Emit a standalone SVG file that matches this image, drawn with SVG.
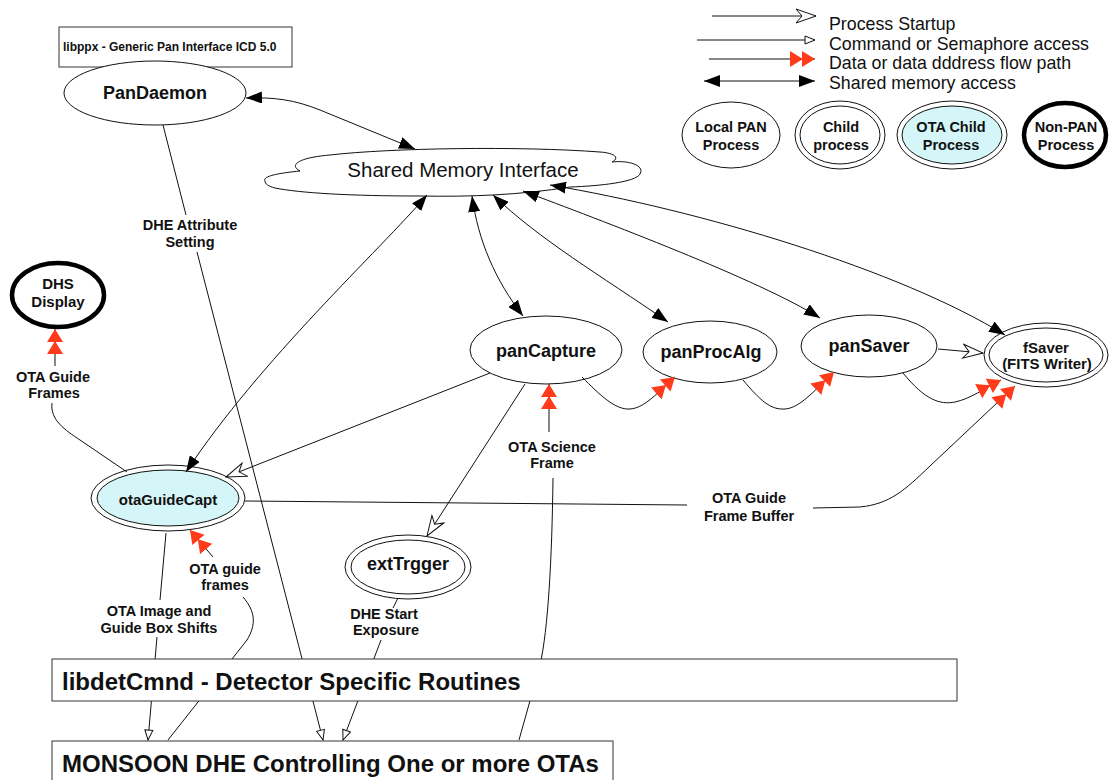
<svg xmlns="http://www.w3.org/2000/svg" width="1109" height="780" viewBox="0 0 1109 780">
<style>
text{font-family:"Liberation Sans",Arial,sans-serif;fill:#111}
.lbl{font-weight:bold;font-size:14.5px;text-anchor:middle}
.nd{font-weight:bold;font-size:18px;text-anchor:middle}
.lgn{font-weight:bold;font-size:14.5px;text-anchor:middle}
.lg{font-size:17.8px}
.e{fill:#fff;stroke:#111;stroke-width:1}
.cy{fill:#d5f6f8;stroke:#111;stroke-width:1}
.thick{fill:#fff;stroke:#000;stroke-width:4.5}
.c{fill:none;stroke:#111;stroke-width:1}
.box{fill:#fff;stroke:#333;stroke-width:1}
</style>
<defs>
<marker id="sm" viewBox="0 0 16 12" refX="16" refY="6" markerWidth="16" markerHeight="12" markerUnits="userSpaceOnUse" orient="auto-start-reverse"><path d="M0,0 L16,6 L0,12 Z" fill="#000"/></marker>
<marker id="dt" viewBox="0 0 26 18" refX="25" refY="9" markerWidth="26" markerHeight="18" markerUnits="userSpaceOnUse" orient="auto"><path d="M0,1 L13,9 L0,17 Z M12,1 L25,9 L12,17 Z" fill="#ff3b1c"/></marker>
<marker id="cmd" viewBox="0 0 12 10" refX="11" refY="5" markerWidth="12" markerHeight="10" markerUnits="userSpaceOnUse" orient="auto"><path d="M1,1 L11,5 L1,9 Z" fill="#fff" stroke="#111" stroke-width="1"/></marker>
<marker id="st" viewBox="0 0 22 16" refX="21" refY="8" markerWidth="22" markerHeight="16" markerUnits="userSpaceOnUse" orient="auto"><path d="M1,1 L21,8 L1,15 L7,8 Z" fill="#fff" stroke="#111" stroke-width="1"/></marker>
</defs>
<rect width="1109" height="780" fill="#fff"/>

<!-- Legend -->
<g id="legend">
<path class="c" d="M712,16 L816,16" marker-end="url(#st)"/>
<path class="c" d="M697,40 L815,40" marker-end="url(#cmd)"/>
<path class="c" d="M709,59 L815,59" marker-end="url(#dt)"/>
<path class="c" d="M704,81 L815,81" marker-start="url(#sm)" marker-end="url(#sm)"/>
<text class="lg" x="829" y="30">Process Startup</text>
<text class="lg" x="829" y="50">Command or Semaphore access</text>
<text class="lg" x="829" y="69">Data or data dddress flow path</text>
<text class="lg" x="829" y="89">Shared memory access</text>
</g>
<g id="legend-local">
<ellipse class="e" cx="731" cy="135" rx="49" ry="33"/>
<text class="lgn" x="731" y="132">Local PAN</text><text class="lgn" x="731" y="150">Process</text>
</g>
<g id="legend-child">
<ellipse class="e" cx="840" cy="135" rx="45" ry="34"/>
<ellipse class="e" cx="840" cy="135" rx="40" ry="29"/>
<text class="lgn" x="841" y="132">Child</text><text class="lgn" x="841" y="150">process</text>
</g>
<g id="legend-ota">
<ellipse class="e" cx="952" cy="135" rx="55" ry="34"/>
<ellipse class="cy" cx="952" cy="135" rx="50" ry="29"/>
<text class="lgn" x="951" y="132">OTA Child</text><text class="lgn" x="951" y="150">Process</text>
</g>
<g id="legend-nonpan">
<ellipse class="thick" cx="1065" cy="135" rx="41" ry="32"/>
<text class="lgn" x="1066" y="132">Non-PAN</text><text class="lgn" x="1066" y="150">Process</text>
</g>

<!-- Nodes -->
<g id="libppx">
<rect class="box" x="59" y="27" width="233" height="40"/>
<text x="63" y="51" style="font-weight:bold;font-size:12px">libppx - Generic Pan Interface ICD 5.0</text>
</g>
<g id="PanDaemon">
<ellipse class="e" cx="155" cy="93" rx="91" ry="32"/>
<text class="nd" x="155" y="99">PanDaemon</text>
</g>
<g id="SharedMemory">
<path class="e" d="M265,181 C262,176 280,173 300,171 C290,166 295,158 330,155 C390,148 520,146 600,152 C615,153 620,158 612,162 C630,160 645,166 640,174 C636,182 600,186 570,187 C520,195 470,197 420,196 C350,196 300,193 275,188 C268,186 265,184 265,181 Z"/>
<text x="463" y="177" style="font-size:20.5px;text-anchor:middle">Shared Memory Interface</text>
</g>
<g id="DHSDisplay">
<ellipse class="thick" cx="58" cy="295" rx="46" ry="32"/>
<text class="lbl" x="58" y="289" style="font-size:15px">DHS</text>
<text class="lbl" x="58" y="307" style="font-size:15px">Display</text>
</g>
<g id="panCapture">
<ellipse class="e" cx="546" cy="350" rx="76" ry="34"/>
<text class="nd" x="546" y="357">panCapture</text>
</g>
<g id="panProcAlg">
<ellipse class="e" cx="710" cy="352" rx="67" ry="31"/>
<text class="nd" x="711" y="358">panProcAlg</text>
</g>
<g id="panSaver">
<ellipse class="e" cx="869" cy="346" rx="68" ry="31"/>
<text class="nd" x="869" y="352">panSaver</text>
</g>
<g id="fSaver">
<ellipse class="e" cx="1046" cy="355" rx="62" ry="32"/>
<ellipse class="e" cx="1046" cy="355" rx="57" ry="27"/>
<text class="lbl" x="1046" y="353" style="font-size:15px">fSaver</text>
<text class="lbl" x="1047" y="369" style="font-size:15px">(FITS Writer)</text>
</g>
<g id="otaGuideCapt">
<ellipse class="e" cx="168" cy="498" rx="77" ry="33"/>
<ellipse class="cy" cx="168" cy="498" rx="71" ry="28"/>
<text class="lbl" x="168" y="505" style="font-size:15px">otaGuideCapt</text>
</g>
<g id="extTrgger">
<ellipse class="e" cx="408" cy="567" rx="63" ry="32"/>
<ellipse class="e" cx="408" cy="567" rx="57" ry="27"/>
<text class="nd" x="408" y="570">extTrgger</text>
</g>

<!-- Connectors -->
<g id="connectors">
<path class="c" d="M246,98 C275,97 295,100 320,110 L415,149" marker-start="url(#sm)" marker-end="url(#sm)"/>
<path class="c" d="M427,195 C380,250 260,360 186,472" marker-start="url(#sm)" marker-end="url(#sm)"/>
<path class="c" d="M472,196 C478,240 495,280 523,316" marker-start="url(#sm)" marker-end="url(#sm)"/>
<path class="c" d="M493,195 C540,240 600,275 668,322" marker-start="url(#sm)" marker-end="url(#sm)"/>
<path class="c" d="M523,191 C600,220 760,280 820,318" marker-start="url(#sm)" marker-end="url(#sm)"/>
<path class="c" d="M550,185 C700,210 900,270 1005,335" marker-start="url(#sm)" marker-end="url(#sm)"/>
<path class="c" d="M490,373 L226,477" marker-end="url(#st)"/>
<path class="c" d="M525,384 L427,536" marker-end="url(#st)"/>
<path class="c" d="M938,349 L983,353" marker-end="url(#st)"/>
<path class="c" d="M582,377 C600,395 615,410 630,409 C645,408 658,392 675,377" marker-end="url(#dt)"/>
<path class="c" d="M743,380 C760,400 770,410 785,409 C800,408 815,390 834,372" marker-end="url(#dt)"/>
<path class="c" d="M903,373 C925,400 940,405 955,402 C970,399 985,388 1001,380" marker-end="url(#dt)"/>
<path class="c" d="M245,501 L687,505"/>
<path class="c" d="M813,508 L860,507 C890,504 905,490 930,466 L1015,386" marker-end="url(#dt)"/>
<path class="c" d="M549,432 L549,384" marker-end="url(#dt)"/>
<path class="c" d="M553,478 C552,560 548,630 540,665 L519,740"/>
<path class="c" d="M55,366 L55,329" marker-end="url(#dt)"/>
<path class="c" d="M52,403 C50,420 65,430 80,440 L127,472"/>
<path class="c" d="M213,557 L190,530" marker-end="url(#dt)"/>
<path class="c" d="M243,597 C256,612 256,625 247,640 L168,740"/>
<path class="c" d="M166,533 L160,600"/>
<path class="c" d="M157,637 L148,740" marker-end="url(#cmd)"/>
<path class="c" d="M163,125 L186,215"/>
<path class="c" d="M197,252 L323,740" marker-end="url(#cmd)"/>
<path class="c" d="M398,598 L393,608"/>
<path class="c" d="M381,640 L343,740" marker-end="url(#cmd)"/>
<text class="lbl" x="190" y="230">DHE Attribute</text>
<text class="lbl" x="190" y="247">Setting</text>
<text class="lbl" x="53" y="382">OTA Guide</text>
<text class="lbl" x="54" y="398">Frames</text>
<text class="lbl" x="552" y="452">OTA Science</text>
<text class="lbl" x="552" y="468">Frame</text>
<text class="lbl" x="749" y="503">OTA Guide</text>
<text class="lbl" x="749" y="521">Frame Buffer</text>
<text class="lbl" x="225" y="574">OTA guide</text>
<text class="lbl" x="225" y="590">frames</text>
<text class="lbl" x="159" y="616">OTA Image and</text>
<text class="lbl" x="159" y="633">Guide Box Shifts</text>
<text class="lbl" x="384" y="619">DHE Start</text>
<text class="lbl" x="386" y="635">Exposure</text>
</g>

<g id="libdetCmnd">
<rect class="box" x="52" y="659" width="905" height="42"/>
<text x="62" y="690" style="font-weight:bold;font-size:24px">libdetCmnd - Detector Specific Routines</text>
</g>
<g id="MONSOON">
<rect class="box" x="52" y="741" width="561" height="45"/>
<text x="62" y="772" style="font-weight:bold;font-size:24px">MONSOON DHE Controlling One or more OTAs</text>
</g>
</svg>
